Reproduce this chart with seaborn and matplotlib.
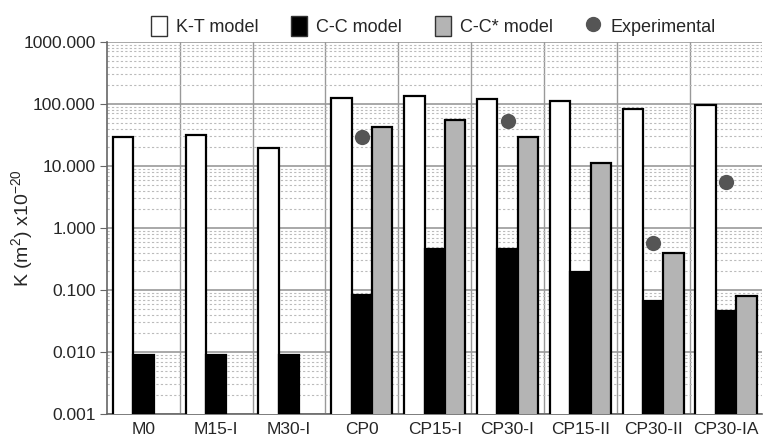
import numpy as np
import pandas as pd
import seaborn as sns
import matplotlib.pyplot as plt
from matplotlib.patches import Patch
from matplotlib.lines import Line2D
from matplotlib.ticker import FixedLocator, FormatStrFormatter, LogLocator, NullFormatter

# data
samples = ["M0", "M15-I", "M30-I", "CP0", "CP15-I", "CP30-I", "CP15-II", "CP30-II", "CP30-IA"]
kt_model = [29, 32, 19.5, 124, 133, 122, 110, 84, 95]
cc_model = [0.0091, 0.0090, 0.0091, 0.082, 0.45, 0.45, 0.195, 0.067, 0.045]
ccstar_model = [np.nan, np.nan, np.nan, 42.6, 54.6, 29, 11, 0.395, 0.08]
experimental = [np.nan, np.nan, np.nan, 29.7, np.nan, 53, np.nan, 0.57, 5.6]

models = ["K-T model", "C-C model", "C-C* model"]
colors = ["white", "black", "#b4b4b4"]

df = pd.DataFrame({
    "sample": samples * 3,
    "model": sum([[m] * len(samples) for m in models], []),
    "K": kt_model + cc_model + ccstar_model,
})

sns.set_style("white")
plt.rcParams["font.family"] = ["Liberation Sans", "DejaVu Sans"]

fig = plt.figure(figsize=(7.64, 4.36), dpi=100)
ax = fig.add_axes([0.140, 0.0505, 0.858, 0.8535])
ax.set_yscale("log")

sns.barplot(data=df, x="sample", y="K", hue="model", order=samples, hue_order=models,
            palette=colors, width=0.84, edgecolor="black", linewidth=1.6,
            ax=ax, legend=False, zorder=3)

sns.stripplot(x=samples, y=experimental, order=samples, jitter=False, color="#555555",
              size=11, linewidth=0, ax=ax, zorder=4)

ax.set_ylim(0.001, 1000)
ax.set_xlim(-0.5, len(samples) - 0.5)
ax.yaxis.set_major_locator(FixedLocator([0.001, 0.01, 0.1, 1, 10, 100, 1000]))
ax.yaxis.set_major_formatter(FormatStrFormatter("%.3f"))
ax.yaxis.set_minor_locator(LogLocator(base=10, subs=np.arange(2, 10)))
ax.yaxis.set_minor_formatter(NullFormatter())
ax.xaxis.set_minor_locator(FixedLocator(np.arange(0.5, len(samples) - 0.5, 1)))

ax.grid(which="major", axis="y", color="#999999", linewidth=1.2, zorder=0)
ax.grid(which="minor", axis="y", color="#bbbbbb", linestyle=(0, (2, 2)), linewidth=0.8, zorder=0)
ax.grid(which="minor", axis="x", color="#999999", linewidth=1.0, zorder=0)
ax.set_axisbelow(True)

for s in ["top", "right"]:
    ax.spines[s].set_visible(False)
ax.spines["left"].set_color("#666666")
ax.spines["bottom"].set_color("#666666")
ax.spines["left"].set_linewidth(1.2)
ax.spines["bottom"].set_linewidth(1.2)

ax.tick_params(axis="y", which="major", left=True, length=5, color="#666666", labelsize=12.5, pad=3)
ax.tick_params(axis="y", which="minor", left=False)
ax.tick_params(axis="x", which="both", bottom=False, labelsize=12.5, pad=2)
ax.set_xlabel("")
ax.set_ylabel("K (m$^{\\mathregular{2}}$) x10$^{\\mathregular{-20}}$", fontsize=14)
ax.yaxis.set_label_coords(-0.108, 0.5)

handles = [Patch(facecolor=c, edgecolor="#333333", linewidth=1.0) for c in colors]
handles.append(Line2D([], [], marker="o", linestyle="", color="#555555", markersize=10))
fig.legend(handles, models + ["Experimental"], loc="upper center", bbox_to_anchor=(0.567, 1.0),
           ncol=4, frameon=False, fontsize=13, handlelength=0.9, handleheight=1.3,
           columnspacing=1.8, handletextpad=0.5)

fig.savefig("out.png", dpi=100)
